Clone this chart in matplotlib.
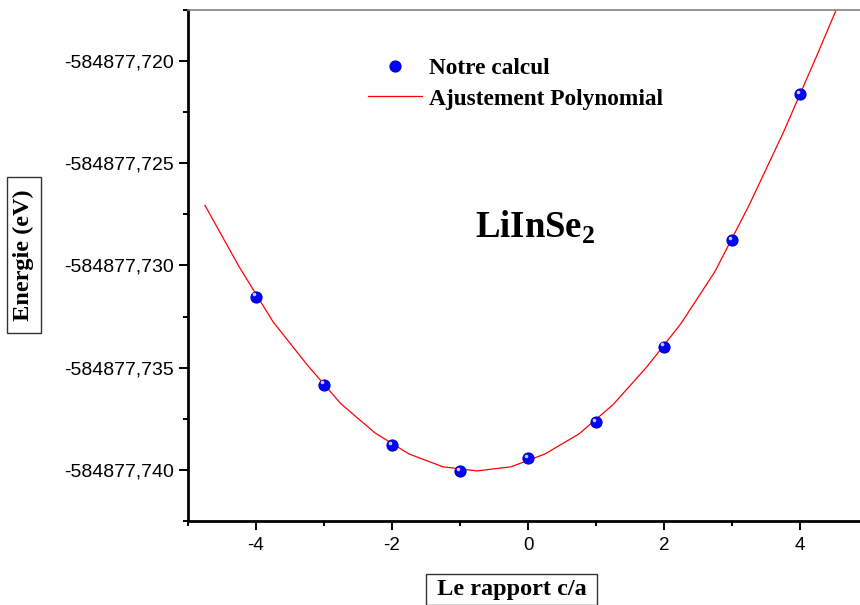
import numpy as np
import matplotlib
matplotlib.use('Agg')
import matplotlib.pyplot as plt
from matplotlib.ticker import MultipleLocator, FuncFormatter
import matplotlib.transforms as mtransforms

plt.rcParams['axes.unicode_minus'] = False
plt.rcParams['mathtext.fontset'] = 'custom'
plt.rcParams['mathtext.rm'] = 'Liberation Serif:bold'
plt.rcParams['mathtext.bf'] = 'Liberation Serif:bold'

# calculated points (c/a ratio step, total energy in eV)
E0 = -584877.0
x_calc = [-4, -3, -2, -1, 0, 1, 2, 3, 4]
e_calc = [-0.73152, -0.73583, -0.73877, -0.74005, -0.73941, -0.73765, -0.73397, -0.72877, -0.72162]

# polynomial fit curve
x_fit = [-4.75, -4.25, -3.75, -3.25, -2.75, -2.25, -1.75, -1.25, -0.75, -0.25,
         0.25, 0.75, 1.25, 1.75, 2.25, 2.75, 3.25, 3.75, 4.25, 4.75]
e_fit = [-0.72706, -0.73005, -0.73275, -0.73485, -0.73677, -0.73819, -0.73922, -0.73985,
         -0.74005, -0.73985, -0.73922, -0.73824, -0.73681, -0.73495, -0.73284, -0.73029,
         -0.72706, -0.72353, -0.71971, -0.71578]

y_calc = E0 + np.array(e_calc)
y_fit = E0 + np.array(e_fit)

fig = plt.figure(figsize=(8.6, 6.05), dpi=100)
ax = fig.add_axes([188/860, 1 - 521/605, 680/860, 511/605])

ax.plot(x_fit, y_fit, color='#ff0000', lw=0.9, label='Ajustement Polynomial', zorder=2)
ax.plot(x_calc, y_calc, ls='none', marker='o', ms=8, mfc='#0000ff', mec='#0000c8', mew=0.8,
        label='Notre calcul', zorder=3)
# little highlight on the balls
hl = mtransforms.offset_copy(ax.transData, fig=fig, x=-1.6, y=1.6, units='points')
ax.plot(x_calc, y_calc, ls='none', marker='o', ms=2.6, mfc='#c0d0ff', mec='none',
        transform=hl, zorder=4)

ax.set_xlim(-5, 5)
ax.set_ylim(E0 - 0.7425, E0 - 0.7175)

ax.xaxis.set_major_locator(MultipleLocator(2))
ax.xaxis.set_minor_locator(MultipleLocator(1))
ax.yaxis.set_major_locator(MultipleLocator(0.005))
ax.yaxis.set_minor_locator(MultipleLocator(0.0025))
ax.yaxis.set_major_formatter(FuncFormatter(lambda v, p: ('%.3f' % v).replace('.', ',')))

ax.tick_params(which='both', direction='out', width=1.4, labelsize=13.5,
               top=False, right=False)
ax.tick_params(which='major', length=6.5)
ax.tick_params(which='minor', length=3.5)
ax.tick_params(axis='x', pad=5)
ax.tick_params(axis='y', pad=3.5, labelsize=14)
for lab in ax.get_xticklabels() + ax.get_yticklabels():
    lab.set_fontfamily('Liberation Sans')

for s in ['left', 'bottom']:
    ax.spines[s].set_linewidth(2.0)
ax.spines['top'].set_color('#808080')
ax.spines['top'].set_linewidth(1.2)
ax.spines['right'].set_visible(False)

box = dict(boxstyle='square,pad=0.2', fc='white', ec='#333333', lw=1)
ax.set_xlabel(' Le rapport c/a ', fontfamily='Liberation Serif', fontweight='bold',
              fontsize=17.5, bbox=box)
ax.xaxis.set_label_coords(0.476, -0.113)
ybox = dict(boxstyle='square,pad=0.26', fc='white', ec='#333333', lw=1)
ax.set_ylabel(' Energie (eV) ', fontfamily='Liberation Serif', fontweight='bold',
              fontsize=17.5, bbox=ybox)
ax.yaxis.set_label_coords(-0.226, 0.52)

ax.text(0.422, 0.555, r'LiInSe$_\mathrm{2}$', transform=ax.transAxes, ha='left', va='baseline',
        fontfamily='Liberation Serif', fontweight='bold', fontsize=26.5)

ax.legend(loc='upper left', bbox_to_anchor=(368/860, 1 - 58/605),
          bbox_transform=fig.transFigure, frameon=False, borderpad=0, borderaxespad=0,
          handlelength=2.3, handletextpad=0.3, labelspacing=0.38,
          prop={'family': 'Liberation Serif', 'weight': 'bold', 'size': 16.8},
          reverse=True)

fig.savefig('out.png', dpi=100)
